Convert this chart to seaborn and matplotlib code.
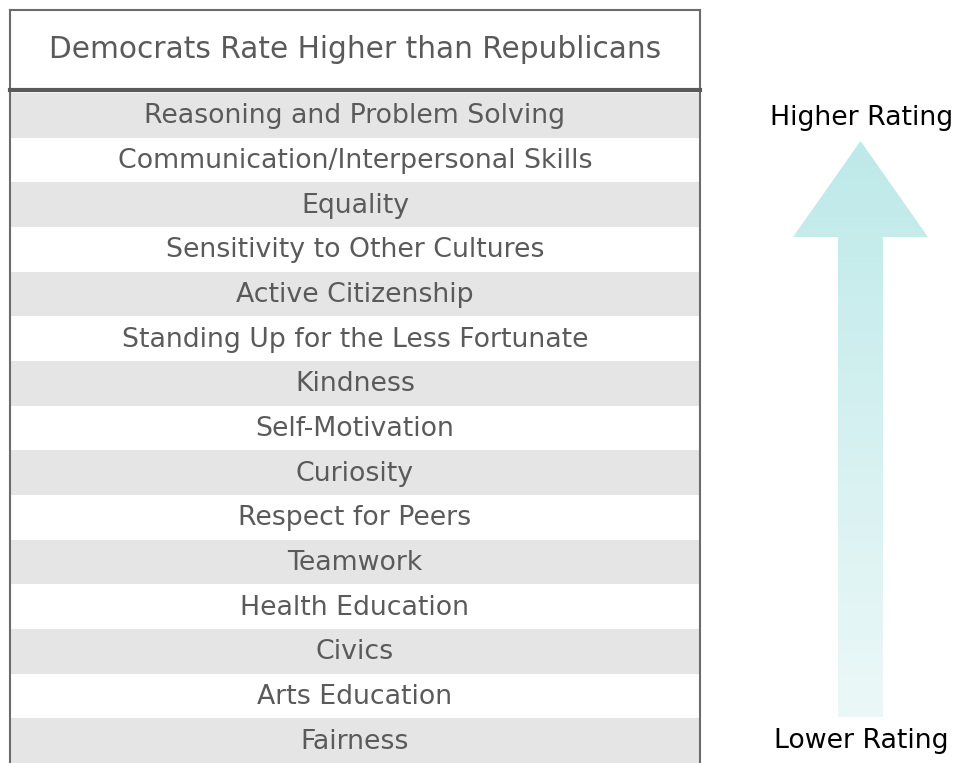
import matplotlib.pyplot as plt
import seaborn as sns
import numpy as np
import pandas as pd
from matplotlib.path import Path
from matplotlib.patches import PathPatch

sns.set_theme(style="white")
plt.rcParams['font.family'] = ['DejaVu Sans']

W, H = 961, 763

title = "Democrats Rate Higher than Republicans"
skills = [
    "Reasoning and Problem Solving",
    "Communication/Interpersonal Skills",
    "Equality",
    "Sensitivity to Other Cultures",
    "Active Citizenship",
    "Standing Up for the Less Fortunate",
    "Kindness",
    "Self-Motivation",
    "Curiosity",
    "Respect for Peers",
    "Teamwork",
    "Health Education",
    "Civics",
    "Arts Education",
    "Fairness",
]
top_label = "Higher Rating"
bottom_label = "Lower Rating"

TEXT_GRAY = "#5a5a5a"
BORDER = "#6b6b6b"


def px_axes(fig, x0, y0, x1, y1):
    # axes placed with pixel coords measured from the top-left corner
    return fig.add_axes([x0 / W, 1 - y1 / H, (x1 - x0) / W, (y1 - y0) / H])


fig = plt.figure(figsize=(W / 100, H / 100), dpi=100)

# striped rows
ax = px_axes(fig, 10, 93, 700, 763)
df = pd.DataFrame({
    "skill": skills,
    "span": 1.0,
    "stripe": ["shade" if i % 2 == 0 else "plain" for i in range(len(skills))],
})
sns.barplot(data=df, y="skill", x="span", hue="stripe", orient="h",
            palette={"shade": "#e5e5e5", "plain": "#ffffff"},
            width=1.0, dodge=False, legend=False, linewidth=0, ax=ax)
ax.set_xlim(0, 1)
ax.set_ylim(len(skills) - 0.5, -0.5)
for i, s in enumerate(skills):
    ax.text(0.5, i + 0.02, s, ha="center", va="center", fontsize=19.3, color=TEXT_GRAY)
ax.set_xticks([])
ax.set_yticks([])
ax.set_xlabel("")
ax.set_ylabel("")
for side in ["top", "bottom"]:
    ax.spines[side].set_visible(False)
for side in ["left", "right"]:
    ax.spines[side].set_color(BORDER)
    ax.spines[side].set_linewidth(1.5)

# header box
hx = px_axes(fig, 10, 10, 700, 90)
hx.set_xlim(0, 1)
hx.set_ylim(0, 1)
hx.set_xticks([])
hx.set_yticks([])
hx.text(0.5, 0.5, title, ha="center", va="center", fontsize=21.3, color=TEXT_GRAY)
for side in ["top", "left", "right"]:
    hx.spines[side].set_color(BORDER)
    hx.spines[side].set_linewidth(1.5)
hx.spines["bottom"].set_color("#5a5a5a")
hx.spines["bottom"].set_linewidth(3.0)

# gradient arrow
arr = px_axes(fig, 780, 130, 940, 725)
arr.set_xlim(780, 940)
arr.set_ylim(725, 130)
arr.axis("off")
verts = [(838, 717), (838, 237), (793, 237), (860.5, 141), (928, 237),
         (883, 237), (883, 717), (838, 717)]
codes = [Path.MOVETO] + [Path.LINETO] * 6 + [Path.CLOSEPOLY]
patch = PathPatch(Path(verts, codes), facecolor="none", edgecolor="none")
arr.add_patch(patch)
top_rgb = np.array([190, 233, 233]) / 255
bot_rgb = np.array([236, 248, 248]) / 255
t = np.linspace(0, 1, 256)[:, None]
grad = (top_rgb * (1 - t) + bot_rgb * t)[:, None, :]
img = arr.imshow(grad, extent=(793, 928, 717, 141), aspect="auto", origin="upper")
img.set_clip_path(patch)

fig.text(862 / W, 1 - 118 / H, top_label, ha="center", va="center", fontsize=19.3, color="black")
fig.text(861 / W, 1 - 741 / H, bottom_label, ha="center", va="center", fontsize=19.3, color="black")

fig.savefig("out.png", dpi=100, facecolor="white")
